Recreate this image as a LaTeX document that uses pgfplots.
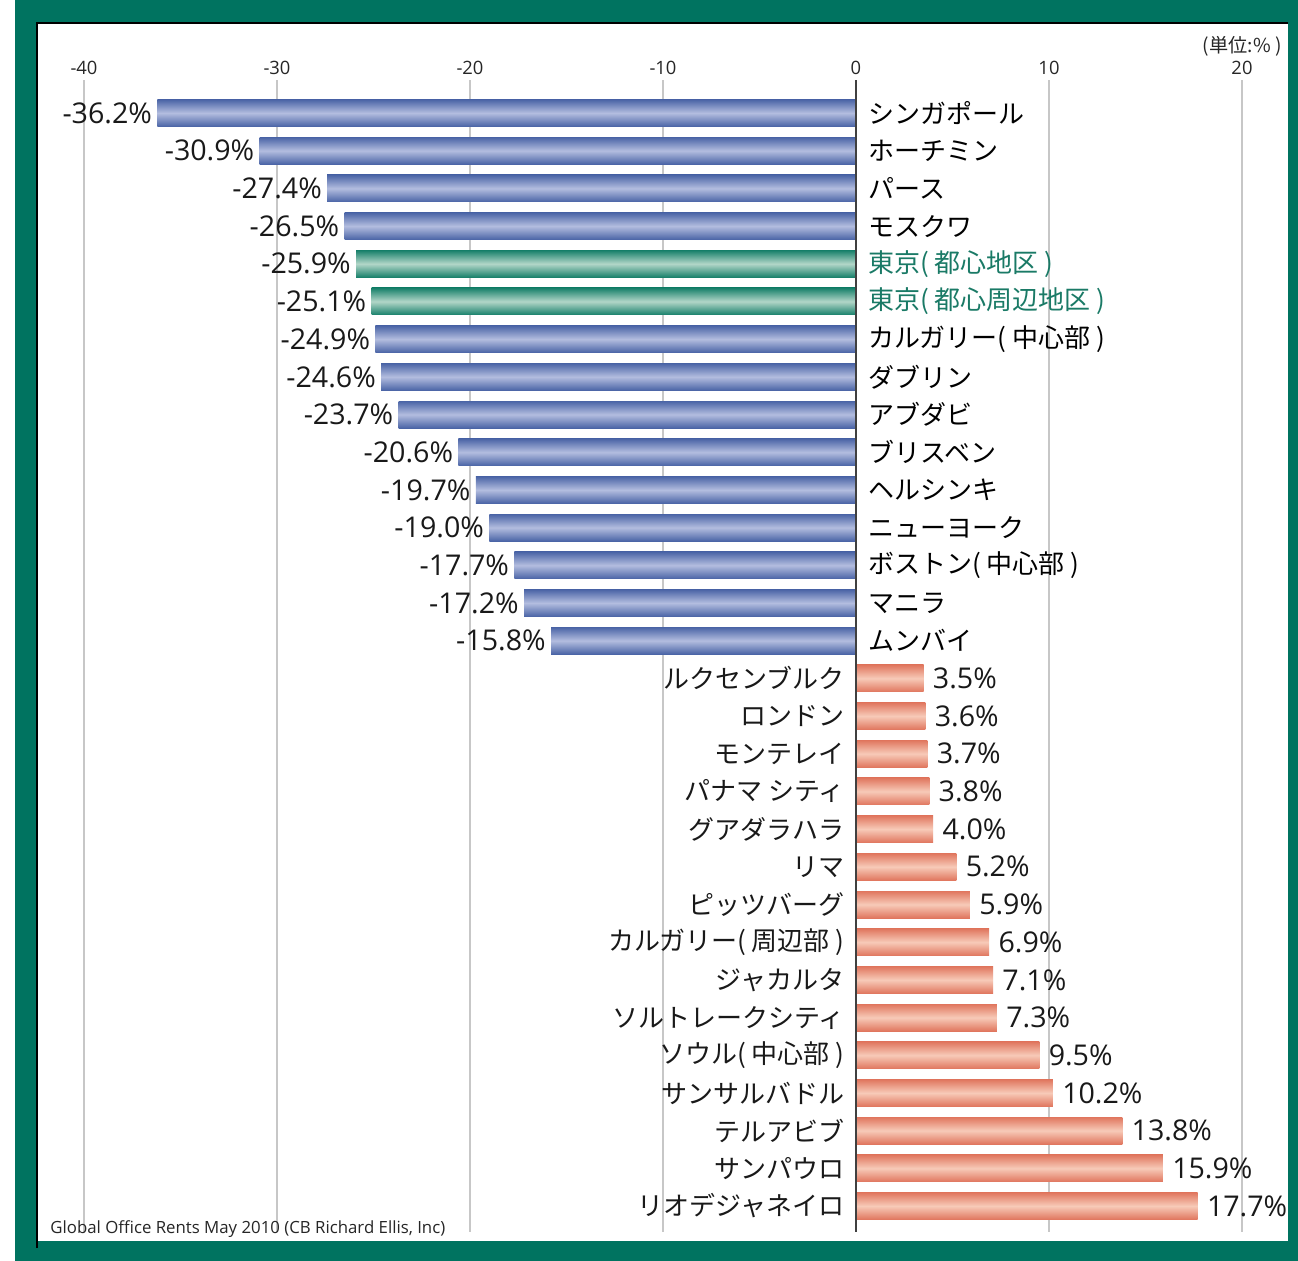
\documentclass[border=0pt]{standalone}
\usepackage{fontspec}
\usepackage{pgfplots}
\pgfplotsset{compat=1.18}
\setmainfont{Open Sans}
\newfontfamily\cjk{Noto Sans CJK JP}
\definecolor{frame}{HTML}{007360}
\definecolor{blueE}{HTML}{4A64A6}
\definecolor{blueC}{HTML}{B3BDDF}
\definecolor{greenE}{HTML}{17806A}
\definecolor{greenC}{HTML}{B2D6C8}
\definecolor{salE}{HTML}{E0765E}
\definecolor{salC}{HTML}{F7CAB8}
\definecolor{tokyo}{HTML}{1A7A66}
\tikzset{
  bluebar/.style={top color=blueE, bottom color=blueE, middle color=blueC},
  greenbar/.style={top color=greenE, bottom color=greenE, middle color=greenC},
  salbar/.style={top color=salE, bottom color=salE, middle color=salC},
  catlab/.style={font=\cjk\fontsize{13bp}{15bp}\selectfont, inner sep=0pt, text=black!90},
  vallab/.style={font=\fontsize{14.3bp}{16bp}\selectfont, inner sep=0pt, text=black!90},
}
% negative bar: value, index, top edge, bottom edge, label, bar style, label colour
\newcommand\nbar[7]{%
  \addplot[draw=none, #6] coordinates {(0,#3) (#1,#3) (#1,#4) (0,#4)} -- cycle;
  \node[vallab, anchor=east] at (axis cs:#1,#2) {#1\%\hspace*{2.5bp}};
  \node[catlab, anchor=west, text=#7] at (axis cs:0,#2) {\hspace*{6bp}#5};
}
% positive bar: value, index, top edge, bottom edge, label
\newcommand\pbar[5]{%
  \addplot[draw=none, salbar] coordinates {(0,#3) (#1,#3) (#1,#4) (0,#4)} -- cycle;
  \node[vallab, anchor=west] at (axis cs:#1,#2) {\hspace*{4.5bp}#1\%};
  \node[catlab, anchor=east] at (axis cs:0,#2) {#5\hspace*{5.5bp}};
}
\begin{document}
\begin{tikzpicture}
\useasboundingbox (0,0) rectangle (649bp,-630.5bp);
\fill[white] (0,0) rectangle (649bp,-630.5bp);
\fill[frame] (7.5bp,0) rectangle (649bp,-630.5bp);
\fill[white] (18.5bp,-11.5bp) rectangle (644bp,-620.5bp);
\draw[black, line width=1.2bp] (18.5bp,-624bp) -- (18.5bp,-11.5bp) -- (644bp,-11.5bp);
\begin{axis}[
  at={(42bp,-616bp)}, anchor=south west,
  scale only axis, width=579bp, height=576bp,
  xmin=-40, xmax=20, ymin=-0.876, ymax=29.69,
  y dir=reverse, clip=false,
  axis line style={draw=none},
  major tick length=0pt,
  ytick=\empty,
  xtick={-40,-30,-20,-10,0,10,20},
  xticklabels={-40,-30,-20,-10,0,10,20},
  xticklabel pos=upper,
  xticklabel style={anchor=base, inner sep=0pt, yshift=3bp,
    font=\fontsize{9.2bp}{11bp}\selectfont, text=black!85},
  xmajorgrids,
  major grid style={color=black!22, line width=1bp},
]
\nbar{-36.2}{0}{-0.358}{0.358}{シンガポール}{bluebar}{black}
\nbar{-30.9}{1}{0.642}{1.358}{ホーチミン}{bluebar}{black}
\nbar{-27.4}{2}{1.642}{2.358}{パース}{bluebar}{black}
\nbar{-26.5}{3}{2.642}{3.358}{モスクワ}{bluebar}{black}
\nbar{-25.9}{4}{3.642}{4.358}{東京( 都心地区 )}{greenbar}{tokyo}
\nbar{-25.1}{5}{4.642}{5.358}{東京( 都心周辺地区 )}{greenbar}{tokyo}
\nbar{-24.9}{6}{5.642}{6.358}{カルガリー( 中心部 )}{bluebar}{black}
\nbar{-24.6}{7}{6.642}{7.358}{ダブリン}{bluebar}{black}
\nbar{-23.7}{8}{7.642}{8.358}{アブダビ}{bluebar}{black}
\nbar{-20.6}{9}{8.642}{9.358}{ブリスベン}{bluebar}{black}
\nbar{-19.7}{10}{9.642}{10.358}{ヘルシンキ}{bluebar}{black}
\nbar{-19.0}{11}{10.642}{11.358}{ニューヨーク}{bluebar}{black}
\nbar{-17.7}{12}{11.642}{12.358}{ボストン( 中心部 )}{bluebar}{black}
\nbar{-17.2}{13}{12.642}{13.358}{マニラ}{bluebar}{black}
\nbar{-15.8}{14}{13.642}{14.358}{ムンバイ}{bluebar}{black}
\pbar{3.5}{15}{14.642}{15.358}{ルクセンブルク}
\pbar{3.6}{16}{15.642}{16.358}{ロンドン}
\pbar{3.7}{17}{16.642}{17.358}{モンテレイ}
\pbar{3.8}{18}{17.642}{18.358}{パナマ シティ}
\pbar{4.0}{19}{18.642}{19.358}{グアダラハラ}
\pbar{5.2}{20}{19.642}{20.358}{リマ}
\pbar{5.9}{21}{20.642}{21.358}{ピッツバーグ}
\pbar{6.9}{22}{21.642}{22.358}{カルガリー( 周辺部 )}
\pbar{7.1}{23}{22.642}{23.358}{ジャカルタ}
\pbar{7.3}{24}{23.642}{24.358}{ソルトレークシティ}
\pbar{9.5}{25}{24.642}{25.358}{ソウル( 中心部 )}
\pbar{10.2}{26}{25.642}{26.358}{サンサルバドル}
\pbar{13.8}{27}{26.642}{27.358}{テルアビブ}
\pbar{15.9}{28}{27.642}{28.358}{サンパウロ}
\pbar{17.7}{29}{28.642}{29.358}{リオデジャネイロ}
\draw[black!75, line width=1.1bp] (axis cs:0,-0.876) -- (axis cs:0,29.69);
\end{axis}
\node[anchor=base east, inner sep=0pt, font=\cjk\fontsize{9.6bp}{11bp}\selectfont, text=black!85]
  at (641bp,-26bp) {(単位:\% )};
\node[anchor=base west, inner sep=0pt, font=\fontsize{8.4bp}{10bp}\selectfont, text=black!85]
  at (25bp,-616.5bp) {Global Office Rents May 2010 (CB Richard Ellis, Inc)};
\end{tikzpicture}
\end{document}
